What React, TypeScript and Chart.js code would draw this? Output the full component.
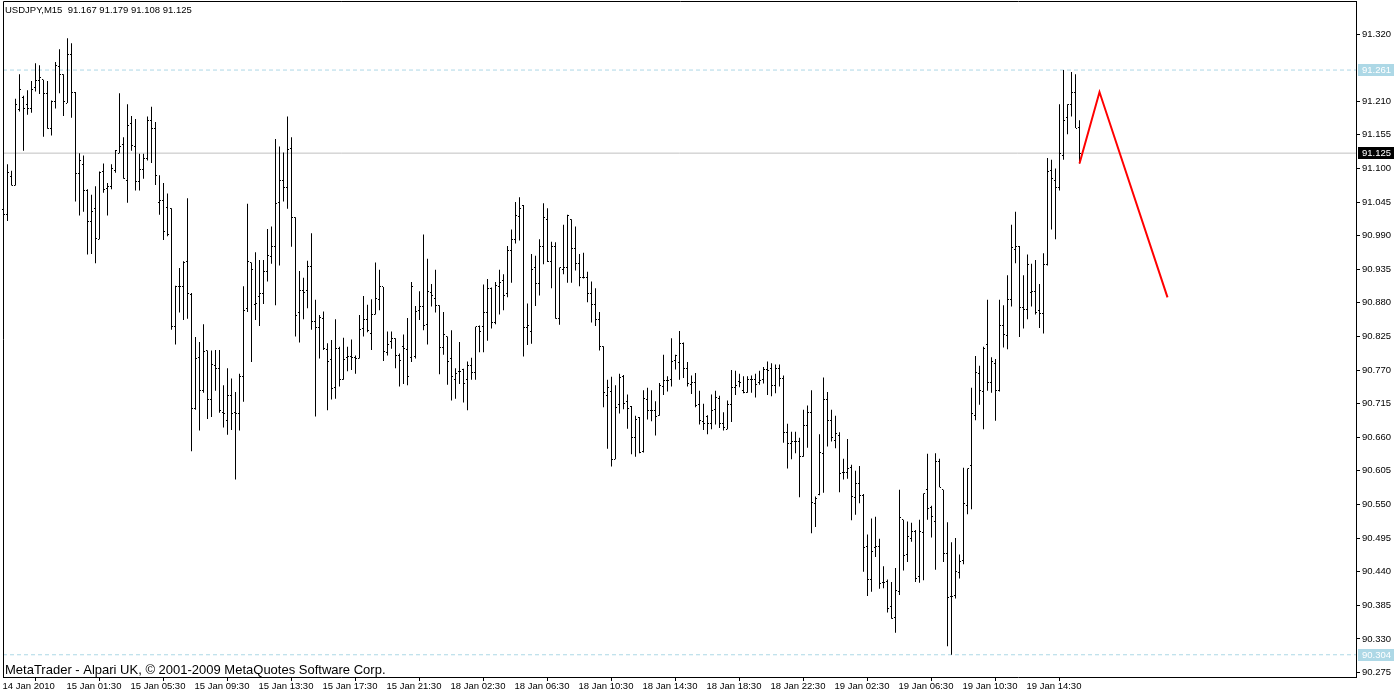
import { useEffect, useRef } from "react";
import { Chart, registerables } from "chart.js";

Chart.register(...registerables);

const headerText = "USDJPY,M15  91.167 91.179 91.108 91.125";
const footerText = "MetaTrader - Alpari UK, © 2001-2009 MetaQuotes Software Corp.";

const opens = [
  91.032, 91.025, 91.087, 91.072, 91.197, 91.216, 91.205, 91.198, 91.233, 91.244,
  91.245, 91.223, 91.166, 91.210, 91.267, 91.254, 91.207, 91.287, 91.225, 91.091,
  91.106, 91.064, 91.013, 91.035, 90.984, 91.095, 91.067, 91.071, 91.097, 91.125,
  91.139, 91.081, 91.174, 91.136, 91.079, 91.099, 91.116, 91.179, 91.165, 91.045,
  91.048, 91.036, 91.035, 90.841, 90.907, 90.906, 90.947, 90.894, 90.707, 90.790,
  90.737, 90.802, 90.722, 90.778, 90.772, 90.700, 90.688, 90.728, 90.701, 90.699,
  90.759, 90.871, 90.946, 90.878, 90.890, 90.895, 90.932, 90.956, 90.973, 91.045,
  91.081, 91.068, 91.132, 91.020, 90.865, 90.900, 90.900, 90.939, 90.849, 90.840,
  90.854, 90.803, 90.787, 90.741, 90.806, 90.755, 90.790, 90.792, 90.791, 90.789,
  90.838, 90.853, 90.830, 90.861, 90.886, 90.906, 90.799, 90.816, 90.821, 90.794,
  90.808, 90.804, 90.791, 90.792, 90.868, 90.874, 90.844, 90.897, 90.887, 90.876,
  90.807, 90.825, 90.789, 90.755, 90.768, 90.771, 90.754, 90.777, 90.766, 90.841,
  90.841, 90.865, 90.904, 90.848, 90.907, 90.917, 90.895, 90.966, 90.983, 91.022,
  91.040, 90.839, 90.833, 90.938, 90.912, 90.973, 91.017, 90.947, 90.972, 90.854,
  90.934, 90.938, 91.017, 90.969, 90.945, 90.921, 90.922, 90.895, 90.877, 90.853,
  90.809, 90.729, 90.735, 90.624, 90.713, 90.760, 90.718, 90.711, 90.660, 90.693,
  90.637, 90.721, 90.704, 90.704, 90.695, 90.743, 90.753, 90.754, 90.785, 90.782,
  90.813, 90.773, 90.747, 90.749, 90.713, 90.685, 90.694, 90.683, 90.705, 90.724,
  90.683, 90.673, 90.714, 90.741, 90.752, 90.736, 90.734, 90.754, 90.754, 90.750,
  90.754, 90.771, 90.772, 90.744, 90.772, 90.756, 90.668, 90.650, 90.653, 90.653,
  90.629, 90.679, 90.700, 90.551, 90.566, 90.634, 90.722, 90.688, 90.655, 90.663,
  90.602, 90.603, 90.610, 90.561, 90.584, 90.564, 90.482, 90.427, 90.479, 90.481,
  90.422, 90.424, 90.383, 90.365, 90.407, 90.525, 90.468, 90.494, 90.505, 90.432,
  90.504, 90.574, 90.545, 90.522, 90.620, 90.574, 90.469, 90.400, 90.401, 90.438,
  90.458, 90.549, 90.613, 90.695, 90.765, 90.735, 90.812, 90.750, 90.780, 90.736,
  90.843, 90.826, 90.885, 90.967, 90.973, 90.872, 90.869, 90.897, 90.899, 90.868,
  90.863, 90.943, 91.097, 91.081, 91.068, 91.121, 91.184, 91.205, 91.225, 91.167,
];

const highs = [
  91.037, 91.107, 91.096, 91.214, 91.254, 91.219, 91.228, 91.243, 91.272, 91.269,
  91.245, 91.243, 91.211, 91.274, 91.295, 91.254, 91.313, 91.305, 91.225, 91.125,
  91.121, 91.066, 91.057, 91.071, 91.095, 91.108, 91.076, 91.107, 91.130, 91.223,
  91.151, 91.205, 91.186, 91.181, 91.124, 91.124, 91.185, 91.201, 91.176, 91.089,
  91.076, 91.059, 91.035, 90.908, 90.937, 90.948, 91.051, 90.896, 90.824, 90.816,
  90.845, 90.802, 90.802, 90.803, 90.803, 90.745, 90.773, 90.756, 90.734, 90.764,
  90.907, 91.042, 90.946, 90.963, 90.950, 90.950, 91.001, 91.005, 91.148, 91.136,
  91.126, 91.185, 91.151, 91.020, 90.932, 90.921, 90.949, 90.994, 90.885, 90.860,
  90.866, 90.814, 90.819, 90.853, 90.808, 90.823, 90.808, 90.820, 90.794, 90.860,
  90.891, 90.877, 90.886, 90.946, 90.934, 90.906, 90.833, 90.833, 90.822, 90.797,
  90.828, 90.855, 90.914, 90.875, 90.899, 90.992, 90.952, 90.911, 90.934, 90.876,
  90.865, 90.825, 90.835, 90.773, 90.816, 90.772, 90.784, 90.790, 90.841, 90.843,
  90.910, 90.919, 90.905, 90.914, 90.934, 90.927, 90.973, 91.000, 91.045, 91.053,
  91.040, 90.879, 90.960, 90.957, 90.984, 91.043, 91.035, 90.980, 90.979, 90.938,
  91.008, 91.024, 91.017, 91.005, 90.960, 90.962, 90.931, 90.915, 90.904, 90.865,
  90.809, 90.754, 90.759, 90.745, 90.764, 90.762, 90.730, 90.711, 90.695, 90.693,
  90.737, 90.741, 90.737, 90.719, 90.749, 90.795, 90.760, 90.822, 90.795, 90.834,
  90.815, 90.783, 90.761, 90.765, 90.736, 90.715, 90.696, 90.730, 90.736, 90.728,
  90.701, 90.720, 90.770, 90.769, 90.764, 90.760, 90.760, 90.761, 90.764, 90.769,
  90.775, 90.784, 90.781, 90.779, 90.779, 90.761, 90.682, 90.669, 90.669, 90.659,
  90.705, 90.712, 90.737, 90.563, 90.665, 90.758, 90.734, 90.705, 90.695, 90.668,
  90.625, 90.657, 90.615, 90.605, 90.613, 90.567, 90.501, 90.527, 90.530, 90.494,
  90.449, 90.427, 90.423, 90.446, 90.574, 90.525, 90.522, 90.520, 90.508, 90.525,
  90.568, 90.633, 90.548, 90.634, 90.625, 90.574, 90.521, 90.488, 90.495, 90.468,
  90.610, 90.609, 90.741, 90.793, 90.777, 90.808, 90.885, 90.791, 90.788, 90.885,
  90.876, 90.925, 91.008, 91.029, 90.973, 90.925, 90.959, 90.944, 90.950, 90.911,
  90.961, 91.117, 91.114, 91.100, 91.205, 91.261, 91.205, 91.258, 91.254, 91.179,
];

const lows = [
  90.982, 91.014, 91.072, 91.072, 91.193, 91.129, 91.188, 91.191, 91.226, 91.222,
  91.152, 91.165, 91.154, 91.198, 91.223, 91.186, 91.207, 91.183, 91.046, 91.023,
  91.029, 90.959, 90.960, 90.945, 90.984, 91.060, 91.023, 91.066, 91.093, 91.125,
  91.083, 91.044, 91.129, 91.064, 91.064, 91.083, 91.113, 91.109, 91.073, 91.024,
  90.983, 90.989, 90.836, 90.812, 90.864, 90.852, 90.854, 90.637, 90.705, 90.671,
  90.733, 90.690, 90.693, 90.736, 90.700, 90.676, 90.664, 90.672, 90.591, 90.671,
  90.718, 90.865, 90.783, 90.852, 90.842, 90.878, 90.915, 90.944, 90.876, 90.941,
  91.046, 91.034, 90.972, 90.825, 90.815, 90.853, 90.871, 90.836, 90.694, 90.789,
  90.803, 90.704, 90.722, 90.723, 90.743, 90.754, 90.768, 90.770, 90.764, 90.789,
  90.825, 90.832, 90.803, 90.861, 90.868, 90.785, 90.794, 90.805, 90.773, 90.743,
  90.747, 90.745, 90.783, 90.789, 90.852, 90.835, 90.812, 90.874, 90.864, 90.763,
  90.795, 90.746, 90.720, 90.723, 90.747, 90.717, 90.704, 90.754, 90.754, 90.799,
  90.799, 90.818, 90.838, 90.845, 90.861, 90.868, 90.889, 90.913, 90.977, 90.982,
  90.792, 90.811, 90.813, 90.875, 90.892, 90.943, 90.947, 90.904, 90.854, 90.844,
  90.927, 90.913, 90.913, 90.933, 90.907, 90.920, 90.881, 90.848, 90.842, 90.802,
  90.709, 90.641, 90.612, 90.624, 90.699, 90.706, 90.674, 90.632, 90.628, 90.634,
  90.635, 90.689, 90.686, 90.663, 90.695, 90.729, 90.735, 90.743, 90.771, 90.754,
  90.757, 90.743, 90.731, 90.709, 90.681, 90.672, 90.665, 90.673, 90.681, 90.675,
  90.671, 90.673, 90.685, 90.729, 90.742, 90.732, 90.733, 90.733, 90.725, 90.746,
  90.748, 90.729, 90.727, 90.732, 90.743, 90.651, 90.609, 90.624, 90.634, 90.562,
  90.628, 90.643, 90.503, 90.513, 90.565, 90.569, 90.645, 90.653, 90.642, 90.570,
  90.591, 90.592, 90.524, 90.533, 90.552, 90.440, 90.400, 90.407, 90.464, 90.412,
  90.413, 90.373, 90.363, 90.340, 90.402, 90.442, 90.456, 90.489, 90.423, 90.422,
  90.426, 90.525, 90.496, 90.443, 90.578, 90.456, 90.318, 90.304, 90.396, 90.429,
  90.452, 90.534, 90.542, 90.688, 90.713, 90.673, 90.736, 90.733, 90.687, 90.735,
  90.807, 90.804, 90.874, 90.945, 90.824, 90.838, 90.853, 90.874, 90.861, 90.839,
  90.830, 90.941, 91.000, 90.984, 91.064, 91.114, 91.156, 91.185, 91.166, 91.108,
];

const closes = [
  91.025, 91.094, 91.072, 91.205, 91.229, 91.198, 91.198, 91.229, 91.244, 91.249,
  91.223, 91.166, 91.209, 91.269, 91.254, 91.210, 91.287, 91.225, 91.091, 91.113,
  91.064, 91.013, 91.029, 90.986, 91.094, 91.065, 91.071, 91.100, 91.129, 91.136,
  91.083, 91.170, 91.138, 91.078, 91.099, 91.116, 91.179, 91.165, 91.089, 91.048,
  90.997, 90.992, 90.842, 90.907, 90.906, 90.946, 90.895, 90.707, 90.789, 90.736,
  90.801, 90.722, 90.779, 90.772, 90.704, 90.699, 90.728, 90.699, 90.699, 90.759,
  90.868, 90.948, 90.934, 90.879, 90.895, 90.932, 90.957, 90.973, 91.043, 91.081,
  91.068, 91.131, 91.020, 90.860, 90.900, 90.897, 90.939, 90.849, 90.840, 90.856,
  90.805, 90.784, 90.739, 90.806, 90.755, 90.788, 90.792, 90.791, 90.789, 90.836,
  90.853, 90.835, 90.861, 90.887, 90.907, 90.800, 90.811, 90.821, 90.794, 90.785,
  90.805, 90.759, 90.907, 90.866, 90.874, 90.843, 90.899, 90.892, 90.875, 90.807,
  90.828, 90.784, 90.759, 90.764, 90.768, 90.748, 90.778, 90.766, 90.841, 90.833,
  90.864, 90.903, 90.848, 90.909, 90.914, 90.892, 90.965, 90.983, 91.023, 91.034,
  90.839, 90.843, 90.934, 90.912, 90.973, 91.020, 90.947, 90.973, 90.854, 90.938,
  90.938, 91.023, 90.969, 90.945, 90.922, 90.921, 90.895, 90.878, 90.853, 90.808,
  90.733, 90.741, 90.624, 90.709, 90.757, 90.716, 90.707, 90.659, 90.689, 90.635,
  90.723, 90.704, 90.704, 90.694, 90.745, 90.753, 90.753, 90.784, 90.793, 90.814,
  90.773, 90.748, 90.749, 90.712, 90.687, 90.682, 90.683, 90.703, 90.725, 90.683,
  90.676, 90.714, 90.741, 90.744, 90.749, 90.733, 90.754, 90.754, 90.747, 90.753,
  90.771, 90.770, 90.744, 90.772, 90.756, 90.667, 90.649, 90.653, 90.653, 90.629,
  90.680, 90.700, 90.554, 90.560, 90.635, 90.721, 90.688, 90.660, 90.666, 90.601,
  90.603, 90.609, 90.563, 90.585, 90.565, 90.480, 90.428, 90.473, 90.481, 90.420,
  90.423, 90.380, 90.364, 90.409, 90.528, 90.467, 90.498, 90.505, 90.429, 90.505,
  90.568, 90.544, 90.530, 90.620, 90.578, 90.469, 90.398, 90.400, 90.440, 90.456,
  90.552, 90.609, 90.699, 90.766, 90.737, 90.806, 90.749, 90.784, 90.737, 90.843,
  90.828, 90.885, 90.970, 90.973, 90.872, 90.869, 90.943, 90.899, 90.864, 90.862,
  90.943, 91.095, 91.083, 91.069, 91.124, 91.179, 91.205, 91.224, 91.166, 91.125,
];

const xTickIndex = [0, 16, 32, 48, 64, 80, 96, 112, 128, 144, 160, 176, 192, 208, 224, 240, 256];
const xTickLabels = [
  "14 Jan 2010", "15 Jan 01:30", "15 Jan 05:30", "15 Jan 09:30", "15 Jan 13:30",
  "15 Jan 17:30", "15 Jan 21:30", "18 Jan 02:30", "18 Jan 06:30", "18 Jan 10:30",
  "18 Jan 14:30", "18 Jan 18:30", "18 Jan 22:30", "19 Jan 02:30", "19 Jan 06:30",
  "19 Jan 10:30", "19 Jan 14:30",
];
const yTickValues = [
  90.275, 90.330, 90.385, 90.440, 90.495, 90.550, 90.605, 90.660, 90.715, 90.770,
  90.825, 90.880, 90.935, 90.990, 91.045, 91.100, 91.155, 91.210, 91.320,
];

const highLevel = 91.261;
const lowLevel = 90.304;
const lastPrice = 91.125;
const forecastIndex = [269, 274, 291];
const forecastPrice = [91.108, 91.225, 90.889];

const xMin = -0.125;
const xMax = 338.125;
const yMin = 90.2676;
const yMax = 91.3724;

const FONT = "'Liberation Sans', Arial, sans-serif";

const mt4Plugin = {
  id: "mt4",
  afterDatasetsDraw(chart: any) {
    const { ctx, scales } = chart;
    const xs = scales.x;
    const ys = scales.y;
    ctx.save();
    ctx.fillStyle = "#000";
    for (let i = 0; i < opens.length; i++) {
      const px = Math.floor(xs.getPixelForValue(i));
      ctx.fillRect(px - 1, Math.floor(ys.getPixelForValue(opens[i])), 1, 1);
      ctx.fillRect(px + 1, Math.floor(ys.getPixelForValue(closes[i])), 1, 1);
    }
    ctx.restore();
  },
  afterDraw(chart: any) {
    const { ctx, chartArea: a, scales } = chart;
    const ys = scales.y;
    ctx.save();
    ctx.strokeStyle = "#000";
    ctx.lineWidth = 1;
    ctx.beginPath();
    ctx.moveTo(a.left + 0.5, a.bottom);
    ctx.lineTo(a.left + 0.5, a.top - 0.5);
    ctx.lineTo(a.right + 1, a.top - 0.5);
    ctx.stroke();

    ctx.fillStyle = "#000";
    ctx.textBaseline = "middle";
    ctx.textAlign = "left";
    ctx.font = `9.5px ${FONT}`;
    ctx.fillText(headerText, 5, 10);
    ctx.font = `13px ${FONT}`;
    ctx.fillText(footerText, 5, 670);

    const boxes = [
      { v: highLevel, bg: "#add8e6", fg: "#ffffff" },
      { v: lowLevel, bg: "#add8e6", fg: "#ffffff" },
      { v: lastPrice, bg: "#000000", fg: "#ffffff" },
    ];
    ctx.font = `9.5px ${FONT}`;
    for (const b of boxes) {
      const y = Math.round(ys.getPixelForValue(b.v));
      ctx.fillStyle = b.bg;
      ctx.fillRect(a.right + 2, y - 6, 40, 12);
      ctx.fillStyle = b.fg;
      ctx.fillText(b.v.toFixed(3), a.right + 6, y);
    }
    ctx.restore();
  },
};

export default function App() {
  const ref = useRef<HTMLCanvasElement>(null);
  useEffect(() => {
    document.body.style.margin = "0";
    const hlLine = (v: number) => [
      { x: xMin, y: v },
      { x: xMax, y: v },
    ];
    const chart = new Chart(ref.current as HTMLCanvasElement, {
      type: "bar",
      data: {
        datasets: [
          {
            type: "bar",
            label: "USDJPY",
            data: lows.map((l, i) => ({ x: i, y: [l, highs[i]] })) as any,
            backgroundColor: "#000",
            borderWidth: 0,
            inflateAmount: 0,
            barThickness: 1,
            order: 0,
          } as any,
          {
            type: "line",
            label: "high",
            data: hlLine(highLevel),
            borderColor: "#add8e6",
            borderWidth: 1,
            borderDash: [4, 3],
            pointRadius: 0,
            order: 2,
          },
          {
            type: "line",
            label: "low",
            data: hlLine(lowLevel),
            borderColor: "#add8e6",
            borderWidth: 1,
            borderDash: [4, 3],
            pointRadius: 0,
            order: 2,
          },
          {
            type: "line",
            label: "last",
            data: hlLine(lastPrice),
            borderColor: "#c0c0c0",
            borderWidth: 1,
            pointRadius: 0,
            order: 2,
          },
          {
            type: "line",
            label: "forecast",
            data: forecastIndex.map((x, i) => ({ x, y: forecastPrice[i] })),
            borderColor: "#ff0000",
            borderWidth: 2,
            pointRadius: 0,
            tension: 0,
            order: -1,
          },
        ],
      },
      options: {
        animation: false,
        responsive: false,
        devicePixelRatio: 1,
        layout: { padding: { left: 3, top: 2, right: 0, bottom: 0 } },
        plugins: { legend: { display: false }, tooltip: { enabled: false } },
        scales: {
          x: {
            type: "linear",
            min: xMin,
            max: xMax,
            bounds: "data",
            offset: false,
            afterBuildTicks: (s: any) => {
              s.ticks = xTickIndex.map((v) => ({ value: v }));
            },
            afterFit: (s: any) => {
              s.height = 17;
              s.paddingLeft = 0;
              s.paddingRight = 0;
            },
            grid: { display: true, drawOnChartArea: false, drawTicks: true, tickLength: 4, color: "#000" },
            border: { display: true, color: "#000", width: 1 },
            ticks: {
              autoSkip: false,
              maxRotation: 0,
              minRotation: 0,
              align: "start",
              labelOffset: -1,
              padding: 0,
              color: "#000",
              font: { family: FONT, size: 9.5 },
              callback: (_v: any, i: number) => xTickLabels[i],
            },
          },
          y: {
            type: "linear",
            position: "right",
            min: yMin,
            max: yMax,
            bounds: "data",
            afterBuildTicks: (s: any) => {
              s.ticks = yTickValues.map((v) => ({ value: v }));
            },
            afterFit: (s: any) => {
              s.width = 38;
              s.paddingTop = 0;
              s.paddingBottom = 0;
            },
            grid: { display: true, drawOnChartArea: false, drawTicks: true, tickLength: 4, color: "#000" },
            border: { display: true, color: "#000", width: 1 },
            ticks: {
              autoSkip: false,
              padding: 2,
              color: "#000",
              font: { family: FONT, size: 9.5 },
              callback: (v: any) => Number(v).toFixed(3),
            },
          },
        },
      },
      plugins: [mt4Plugin],
    } as any);
    return () => chart.destroy();
  }, []);
  return (
    <div style={{ width: 1394, height: 694, background: "#fff" }}>
      <canvas ref={ref} width={1394} height={694} style={{ display: "block" }} />
    </div>
  );
}
